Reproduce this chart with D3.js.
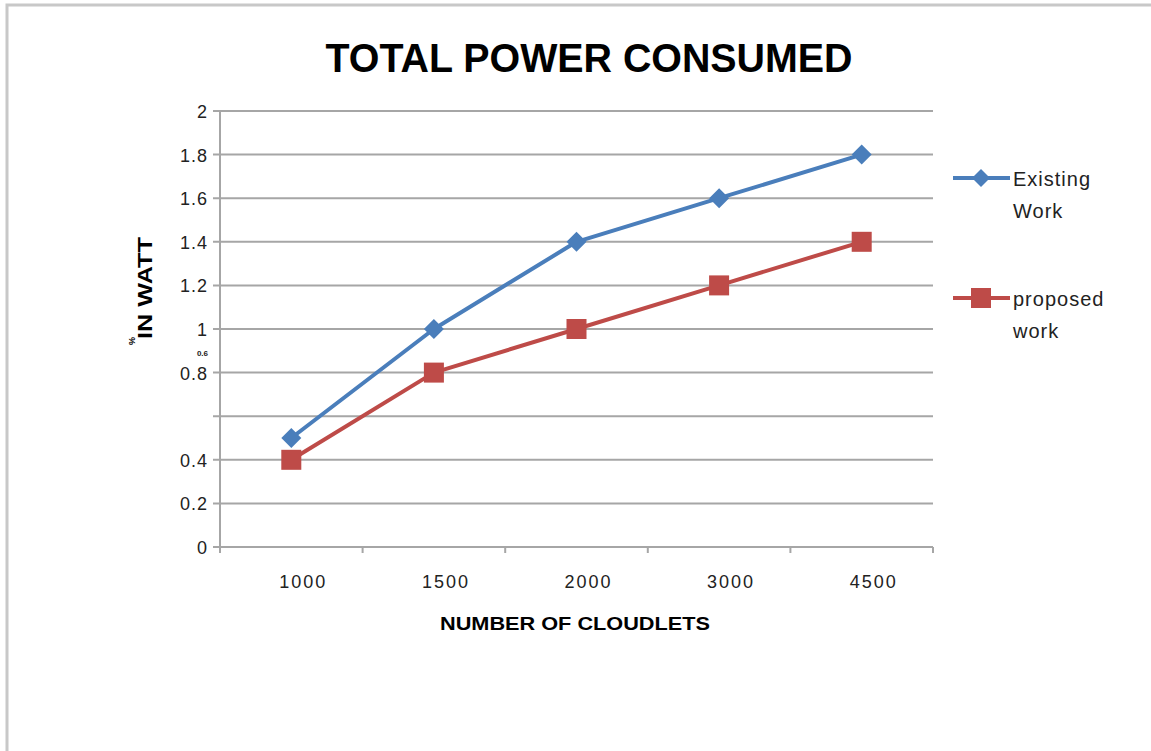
<!DOCTYPE html>
<html><head><meta charset="utf-8">
<script src="https://cdn.jsdelivr.net/npm/d3@7/dist/d3.min.js"></script>
<style>body{margin:0;background:#fff}svg{display:block}</style>
</head><body><svg id="c" width="1151" height="751"></svg>
<script>
const categories = ["1000", "1500", "2000", "3000", "4500"];
const existingWork = [0.5, 1.0, 1.4, 1.6, 1.8];
const proposedWork = [0.4, 0.8, 1.0, 1.2, 1.4];
const yTicks = [0, 0.2, 0.4, 0.6, 0.8, 1, 1.2, 1.4, 1.6, 1.8, 2];
const yTickLabels = ["0", "0.2", "0.4", "", "0.8", "1", "1.2", "1.4", "1.6", "1.8", "2"];
const seriesNames = [["Existing", "Work"], ["proposed", "work"]];

const svg = d3.select("#c");
const font = "'Liberation Sans', Arial, sans-serif";

// frame
svg.append("path").attr("d", "M7,751 V5 H1151").attr("fill", "none").attr("stroke", "#c8c8c8").attr("stroke-width", 3);

const x = d3.scaleBand().domain(categories).range([220, 933]);
const y = d3.scaleLinear().domain([0, 2]).range([547, 111]);

// gridlines
svg.append("g").selectAll("line").data(yTicks).join("line")
  .attr("x1", 213).attr("x2", 933)
  .attr("y1", d => y(d)).attr("y2", d => y(d))
  .attr("stroke", "#a6a6a6").attr("stroke-width", 2);

// y axis line
svg.append("line").attr("x1", 220).attr("x2", 220).attr("y1", y(2)).attr("y2", 553)
  .attr("stroke", "#a6a6a6").attr("stroke-width", 2);

// x tick marks
const bounds = categories.map(c => x(c)).concat([x.range()[1]]);
svg.append("g").selectAll("line").data(bounds).join("line")
  .attr("x1", d => d).attr("x2", d => d).attr("y1", 547).attr("y2", 553)
  .attr("stroke", "#a6a6a6").attr("stroke-width", 2);

// y tick labels
svg.append("g").selectAll("text").data(yTicks).join("text")
  .attr("x", 208).attr("y", d => y(d) + 7)
  .attr("text-anchor", "end").attr("font-family", font).attr("font-size", 18)
  .attr("letter-spacing", 1).attr("fill", "#222")
  .text((d, i) => yTickLabels[i]);

// tiny garbled label
svg.append("text").attr("x", 208).attr("y", 356).attr("text-anchor", "end")
  .attr("font-family", font).attr("font-size", 8).attr("font-weight", "bold").attr("fill", "#222").text("0.6");

// x tick labels
svg.append("g").selectAll("text").data(categories).join("text")
  .attr("x", d => x(d) + x.bandwidth() / 2 + 12).attr("y", 588)
  .attr("text-anchor", "middle").attr("font-family", font).attr("font-size", 18)
  .attr("letter-spacing", 2).attr("fill", "#222").text(d => d);

// title
svg.append("text").attr("x", 589).attr("y", 72).attr("text-anchor", "middle")
  .attr("font-family", font).attr("font-weight", "bold").attr("font-size", 40)
  .attr("textLength", 527).attr("lengthAdjust", "spacingAndGlyphs").text("TOTAL POWER CONSUMED");

// x title
svg.append("text").attr("x", 575).attr("y", 630).attr("text-anchor", "middle")
  .attr("font-family", font).attr("font-weight", "bold").attr("font-size", 18)
  .attr("textLength", 270).attr("lengthAdjust", "spacingAndGlyphs").text("NUMBER OF CLOUDLETS");

// y title
svg.append("text").attr("transform", "translate(152,288) rotate(-90)").attr("text-anchor", "middle")
  .attr("font-family", font).attr("font-weight", "bold").attr("font-size", 20)
  .attr("textLength", 102).attr("lengthAdjust", "spacingAndGlyphs").text("IN WATT");
svg.append("text").attr("transform", "translate(135,345) rotate(-90)").attr("text-anchor", "start")
  .attr("font-family", font).attr("font-weight", "bold").attr("font-size", 9).text("%");

const cx = d => x(d) + x.bandwidth() / 2;
const line = d3.line().x((d, i) => cx(categories[i])).y(d => y(d));

const blue = "#4a7ebb", red = "#be4b48";

svg.append("path").datum(existingWork).attr("d", line).attr("fill", "none")
  .attr("stroke", blue).attr("stroke-width", 4).attr("stroke-linejoin", "round");
svg.append("path").datum(proposedWork).attr("d", line).attr("fill", "none")
  .attr("stroke", red).attr("stroke-width", 4).attr("stroke-linejoin", "round");

const diamond = (px, py, r) => `M${px},${py - r}L${px + r},${py}L${px},${py + r}L${px - r},${py}Z`;

svg.append("g").selectAll("path").data(existingWork).join("path")
  .attr("d", (d, i) => diamond(cx(categories[i]), y(d), 10)).attr("fill", blue);
svg.append("g").selectAll("rect").data(proposedWork).join("rect")
  .attr("x", (d, i) => cx(categories[i]) - 10).attr("y", d => y(d) - 10)
  .attr("width", 20).attr("height", 20).attr("fill", red);

// legend
const lg = svg.append("g");
const legendY = [178, 298];
[blue, red].forEach((col, i) => {
  lg.append("line").attr("x1", 953).attr("x2", 1010).attr("y1", legendY[i]).attr("y2", legendY[i])
    .attr("stroke", col).attr("stroke-width", 4);
  if (i === 0) lg.append("path").attr("d", diamond(981, legendY[i], 9)).attr("fill", col);
  else lg.append("rect").attr("x", 971).attr("y", legendY[i] - 10).attr("width", 20).attr("height", 20).attr("fill", col);
  seriesNames[i].forEach((t, j) => {
    lg.append("text").attr("x", 1013).attr("y", legendY[i] + 8 + j * 32)
      .attr("font-family", font).attr("font-size", 20).attr("letter-spacing", 1).attr("fill", "#222").text(t);
  });
});
</script></body></html>
